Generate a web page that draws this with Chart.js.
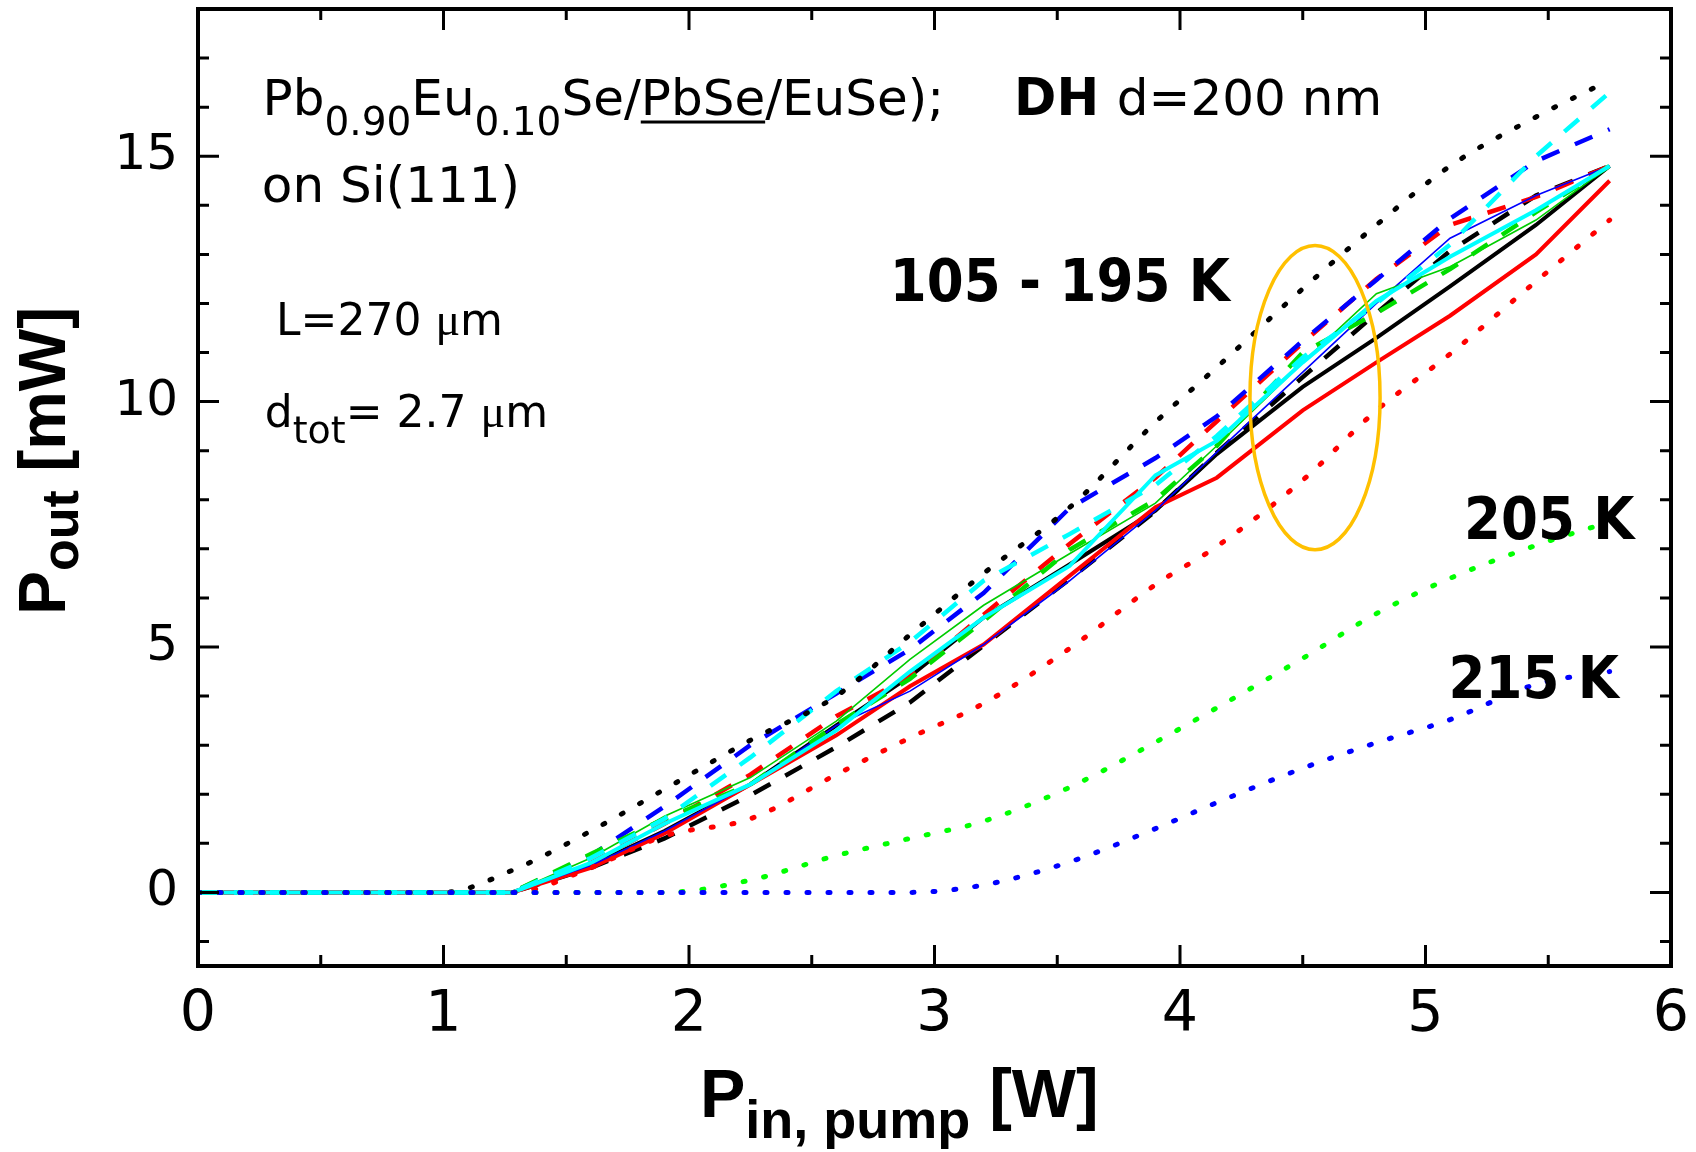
<!DOCTYPE html>
<html>
<head>
<meta charset="utf-8">
<script src="https://cdn.jsdelivr.net/npm/chart.js@4.4.1/dist/chart.umd.min.js"></script>
<style>
  html, body { margin: 0; padding: 0; background: #fff; }
  #wrap { width: 1696px; height: 1152px; }
</style>
</head>
<body>
<div id="wrap"><canvas id="pumpChart" width="1696" height="1152"></canvas></div>
<script>
// pump power grid [W]
const pumpW = [0, 1.0, 1.28, 1.6, 1.9, 2.25, 2.6, 2.9, 3.2, 3.55, 3.9, 4.15, 4.5, 4.8, 5.1, 5.45, 5.75];

// output power [mW], 105 - 195 K band
const solidBlack = [0, 0, 0, 0.55, 1.25, 2.2, 3.4, 4.4, 5.6, 6.68, 7.78, 8.93, 10.3, 11.3, 12.35, 13.6, 14.8];
const solidRed   = [0, 0, 0, 0.5, 1.2, 2.2, 3.2, 4.2, 5.05, 6.45, 7.85, 8.45, 9.82, 10.8, 11.75, 13.0, 14.5];
const solidBlue  = [0, 0, 0, 0.55, 1.25, 2.2, 3.4, 4.1, 5.05, 6.35, 7.78, 8.97, 10.6, 12.0, 13.33, 14.2, 14.8];
const solidGreen = [0, 0, 0, 0.7, 1.55, 2.34, 3.49, 4.75, 5.85, 6.9, 7.93, 9.1, 10.8, 12.2, 12.75, 13.7, 14.8];
const solidCyan  = [0, 0, 0, 0.6, 1.4, 2.2, 3.3, 4.5, 5.6, 6.65, 8.5, 9.2, 10.8, 12.05, 12.95, 13.9, 14.8];
const dashBlack  = [0, 0, 0, 0.5, 1.1, 1.98, 2.96, 3.87, 5.03, 6.38, 7.77, 8.96, 10.5, 11.8, 13.07, 14.2, 14.8];
const dashRed    = [0, 0, 0, 0.6, 1.4, 2.4, 3.59, 4.4, 5.66, 7.1, 8.45, 9.6, 11.2, 12.5, 13.6, 14.17, 14.8];
const dashBlue   = [0, 0, 0, 0.75, 1.75, 3.0, 4.05, 4.95, 6.1, 7.83, 8.85, 9.7, 11.24, 12.48, 13.73, 14.9, 15.55];
const dashGreen  = [0, 0, 0, 0.78, 1.5, 2.2, 3.42, 4.35, 5.53, 6.98, 8.0, 9.1, 11.0, 11.8, 12.7, 13.86, 14.8];
const dashCyan   = [0, 0, 0, 0.7, 1.5, 2.75, 4.1, 5.1, 6.35, 7.3, 8.3, 9.3, 10.9, 12.0, 13.2, 15.0, 16.3];
const dotBlack   = [0, 0, 0.45, 1.25, 2.1, 3.1, 4.0, 5.25, 6.5, 7.84, 9.58, 10.7, 12.3, 13.6, 14.8, 15.8, 16.55];
const dotRed     = [0, 0, 0, 0.5, 1.15, 1.5, 2.4, 3.15, 3.85, 4.97, 6.27, 7.05, 8.4, 9.82, 10.97, 12.45, 13.7];
// 205 K and 215 K
const dotGreen205 = [0, 0, 0, 0, 0, 0.25, 0.75, 1.1, 1.45, 2.14, 3.06, 3.76, 4.77, 5.68, 6.4, 7.07, 7.55];
const dotBlue215  = [0, 0, 0, 0, 0, 0, 0, 0, 0.15, 0.62, 1.3, 1.83, 2.53, 3.05, 3.52, 4.24, 4.5];

const xTicks = [0, 1, 2, 3, 4, 5, 6];
const yTicks = [0, 5, 10, 15];

const SANS = '"DejaVu Sans", sans-serif';
const ARIAL = '"Liberation Sans", Arial, sans-serif';
const COND_BOLD = '"DejaVu Sans Condensed", "DejaVu Sans", sans-serif';

function lineStyle(kind, color) {
  const base = { borderColor: color, backgroundColor: color, pointRadius: 0, fill: false, tension: 0 };
  if (kind === "solid") return { ...base, borderWidth: 4 };
  if (kind === "thin")  return { ...base, borderWidth: 1.6 };
  if (kind === "dash")  return { ...base, borderWidth: 4.5, borderDash: [19, 17] };
  return { ...base, borderWidth: 5, borderDash: [2, 19], borderCapStyle: "round", cubicInterpolationMode: "monotone" };
}

function pts(arr) {
  return pumpW.map((x, i) => ({ x, y: arr[i] }));
}

// first entry is drawn on top
const datasets = [
  { data: pts(dotBlue215),  ...lineStyle("dot", "#0000ff") },
  { data: pts(dotGreen205), ...lineStyle("dot", "#00ff00") },
  { data: pts(dotRed),      ...lineStyle("dot", "#ff0000") },
  { data: pts(dotBlack),    ...lineStyle("dot", "#000000") },
  { data: pts(solidCyan),   ...lineStyle("solid", "#00ffff") },
  { data: pts(dashCyan),    ...lineStyle("dash", "#00ffff") },
  { data: pts(dashGreen),   ...lineStyle("dash", "#00dd00") },
  { data: pts(solidGreen),  ...lineStyle("thin", "#00cc00") },
  { data: pts(dashBlue),    ...lineStyle("dash", "#0000ff") },
  { data: pts(solidBlue),   ...lineStyle("thin", "#0000ff") },
  { data: pts(dashRed),     ...lineStyle("dash", "#ff0000") },
  { data: pts(solidRed),    ...lineStyle("solid", "#ff0000") },
  { data: pts(dashBlack),   ...lineStyle("dash", "#000000") },
  { data: pts(solidBlack),  ...lineStyle("solid", "#000000") }
];

// draw a row of text pieces (for sub/superscripts)
function drawRuns(ctx, x, y, parts) {
  let cx = x;
  for (const p of parts) {
    ctx.font = p.font;
    const w = ctx.measureText(p.text).width;
    ctx.fillText(p.text, cx, y + (p.dy || 0));
    if (p.underline) ctx.fillRect(cx, y + 6, w, 3);
    cx += w;
  }
  return cx;
}

const frameAndText = {
  id: "frameAndText",
  afterDatasetsDraw(chart) {
    const { ctx, scales: { x, y } } = chart;
    // orange ellipse around the kink region
    ctx.save();
    ctx.strokeStyle = "#ffc000";
    ctx.lineWidth = 3.5;
    ctx.beginPath();
    const cx = x.getPixelForValue(4.55), cy = y.getPixelForValue(10.08);
    const rx = x.getPixelForValue(4.55 + 0.265) - cx;
    const ry = cy - y.getPixelForValue(10.08 + 3.1);
    ctx.ellipse(cx, cy, rx, ry, 0, 0, Math.PI * 2);
    ctx.stroke();
    ctx.restore();
  },
  afterDraw(chart) {
    const { ctx, chartArea: a, scales: { x, y } } = chart;
    ctx.save();
    ctx.strokeStyle = "#000";
    ctx.fillStyle = "#000";

    // inward ticks on all four sides
    ctx.lineWidth = 3;
    ctx.beginPath();
    for (let v = 0; v <= 6.001; v += 0.5) {
      const px = x.getPixelForValue(v);
      const len = Number.isInteger(v) ? 21 : 11;
      ctx.moveTo(px, a.bottom); ctx.lineTo(px, a.bottom - len);
      ctx.moveTo(px, a.top);    ctx.lineTo(px, a.top + len);
    }
    for (let v = -1; v <= 17; v++) {
      const py = y.getPixelForValue(v);
      const len = v % 5 === 0 ? 21 : 11;
      ctx.moveTo(a.left, py);  ctx.lineTo(a.left + len, py);
      ctx.moveTo(a.right, py); ctx.lineTo(a.right - len, py);
    }
    ctx.stroke();

    ctx.lineWidth = 4;
    ctx.strokeRect(a.left, a.top, a.right - a.left, a.bottom - a.top);

    // annotations
    ctx.textBaseline = "alphabetic";
    ctx.textAlign = "left";
    const at = (vx, vy) => [x.getPixelForValue(vx), y.getPixelForValue(vy)];
    const r50 = `50px ${SANS}`, s39 = `39px ${SANS}`;

    let p = at(0.263, 15.85);
    drawRuns(ctx, p[0], p[1], [
      { text: "Pb", font: r50 },
      { text: "0.90", font: s39, dy: 20 },
      { text: "Eu", font: r50 },
      { text: "0.10", font: s39, dy: 20 },
      { text: "Se/", font: r50 },
      { text: "PbSe", font: r50, underline: true },
      { text: "/EuSe);", font: r50 }
    ]);
    p = at(3.324, 15.85);
    drawRuns(ctx, p[0], p[1], [
      { text: "DH ", font: `bold 51px ${SANS}` },
      { text: "d=200 nm", font: r50 }
    ]);
    p = at(0.26, 14.07);
    drawRuns(ctx, p[0], p[1], [{ text: "on Si(111)", font: r50 }]);

    p = at(0.318, 11.36);
    drawRuns(ctx, p[0], p[1], [
      { text: "L=270 ", font: `44px ${SANS}` },
      { text: "\u03bc", font: '46px "Liberation Serif", serif' },
      { text: "m", font: `44px ${SANS}` }
    ]);
    p = at(0.272, 9.48);
    drawRuns(ctx, p[0], p[1], [
      { text: "d", font: `44px ${SANS}` },
      { text: "tot", font: `38px ${SANS}`, dy: 16 },
      { text: "= 2.7 ", font: `44px ${SANS}` },
      { text: "\u03bc", font: '46px "Liberation Serif", serif' },
      { text: "m", font: `44px ${SANS}` }
    ]);

    const kFont = `bold 59px ${COND_BOLD}`;
    p = at(2.818, 12.05);
    drawRuns(ctx, p[0], p[1], [{ text: "105 - 195 K", font: kFont }]);
    p = at(5.157, 7.2);
    drawRuns(ctx, p[0], p[1], [{ text: "205 K", font: kFont }]);
    p = at(5.094, 3.96);
    drawRuns(ctx, p[0], p[1], [{ text: "215 K", font: kFont }]);

    // axis titles
    drawRuns(ctx, 700, 1117, [
      { text: "P", font: `bold 68px ${ARIAL}` },
      { text: "in, pump", font: `bold 54px ${ARIAL}`, dy: 21 },
      { text: " [W]", font: `bold 68px ${ARIAL}` }
    ]);
    ctx.translate(65, 615);
    ctx.rotate(-Math.PI / 2);
    drawRuns(ctx, 0, 0, [
      { text: "P", font: `bold 66px ${ARIAL}` },
      { text: "out", font: `bold 52px ${ARIAL}`, dy: 13 },
      { text: " [mW]", font: `bold 66px ${ARIAL}` }
    ]);
    ctx.restore();
  }
};

new Chart(document.getElementById("pumpChart"), {
  type: "line",
  data: { datasets },
  options: {
    responsive: false,
    animation: false,
    devicePixelRatio: 1,
    layout: { padding: { top: 9, right: 25, left: 0, bottom: 0 } },
    plugins: { legend: { display: false }, tooltip: { enabled: false } },
    scales: {
      x: {
        type: "linear",
        min: 0,
        max: 6,
        afterBuildTicks: s => { s.ticks = xTicks.map(v => ({ value: v })); },
        afterFit: s => { s.height = 186; s.paddingLeft = 0; s.paddingRight = 0; },
        grid: { display: false, drawTicks: false },
        border: { display: false },
        ticks: { color: "#000", padding: 16, maxRotation: 0, font: { family: SANS, size: 57 } }
      },
      y: {
        type: "linear",
        min: -1.5,
        max: 18,
        afterBuildTicks: s => { s.ticks = yTicks.map(v => ({ value: v })); },
        afterFit: s => { s.width = 198; s.paddingTop = 0; s.paddingBottom = 0; },
        grid: { display: false, drawTicks: false },
        border: { display: false },
        ticks: { color: "#000", padding: 20, font: { family: SANS, size: 50 } }
      }
    }
  },
  plugins: [frameAndText]
});
</script>
</body>
</html>
